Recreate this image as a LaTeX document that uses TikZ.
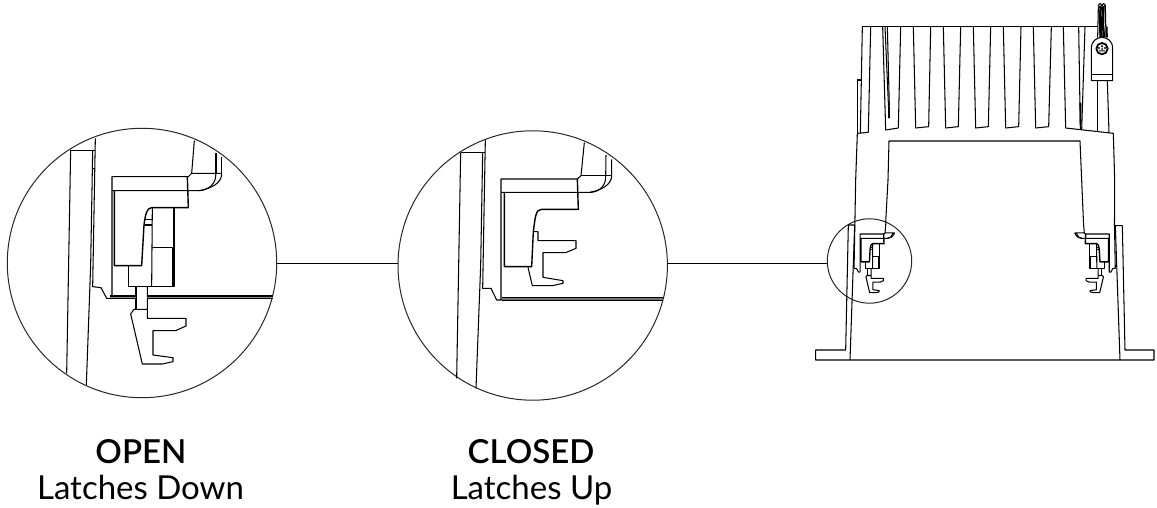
\documentclass[tikz,border=0pt]{standalone}
\usepackage{fontspec}
\setmainfont{Lato}
\newfontfamily\labelbold{Lato Semibold}
\tikzset{
  ink/.style={draw=black,line width=1.05pt,line join=round},
  ring/.style={circle,draw=black!85,line width=1pt,inner sep=0pt,outer sep=0pt},
  caption/.style={font=\fontsize{33}{38}\selectfont,text=black,anchor=base,inner sep=0pt},
  capbold/.style={caption,font=\labelbold\fontsize{33}{38}\selectfont},
}
% latch assembly in common coordinates; open state
\newcommand{\bodylines}{%
  \draw[ink] (286,55)--(278,500)--(303,503)--(320,535)--(336,535);
  \draw[ink] (336,535)--(336,170)--(565,170)--(575,160)--(583,62);
  \draw[ink] (336,212)--(597,212) .. controls (620,212) and (645,195) .. (647,170)--(647.5,160);
  \draw[ink] (575,160)--(665,160)--(665,165) .. controls (662,190) and (635,205) .. (597,212);
  \draw[ink,line width=1.4pt] (343,212)--(343,437)--(425,437)--(432,315) .. controls (436,285) and (440,263) .. (455,263)--(565,263)--(562,170);
}
\newcommand{\openlatch}{%
  \draw[ink] (385,437)--(385,500)--(522,500)--(522,263);
  \draw[ink] (457,263)--(455,500);
  \draw[ink] (457,382)--(517,382)--(517,500);
  \draw[ink] (436,298)--(455,298) (433,315)--(455,315);
  \draw[ink] (408,500)--(408,568);
  \draw[ink] (442,500)--(442,595)--(558,595)--(558,618)--(527,632)--(459,632)--(459,705)--(519,713)--(519,725)--(487,732)--(427,732)--(392,582)--(402,568)--(442,568);
}
\begin{document}
\begin{tikzpicture}[x=1pt,y=-1pt]
\useasboundingbox (0,0) rectangle (1157,508);

% rings
\node[ring,minimum size=269.4pt] (c1) at (142,263) {};
\node[ring,minimum size=269.4pt] (c2) at (532.7,265.5) {};
\node[ring,minimum size=84.4pt] (c3) at (869.5,261) {};
\draw[ink,line width=1pt] (c1.east) -- (c2.west |- c1.east);
\draw[ink,line width=1pt] (c2.east |- c1.east) -- (c3.west |- c1.east);

% open detail
\begin{scope}[x=.33333pt,y=-.33333pt,shift={(0pt,-120pt)}]
  \draw[ink] (212,90)--(200,760);
  \draw[ink] (212,92)--(284,92);
  \draw[ink] (278,92)--(272,435)--(259,795);
  \draw[ink] (284,145)--(278,145);
  \bodylines
  \openlatch
  \draw[ink] (648,160)--(648,100) (665,160)--(665,110);
  \fill[black!45] (330,528) rectangle (408,536) (442,528) rectangle (819,536);
  \draw[ink] (330,528)--(408,528) (442,528)--(820,528);
  \draw[ink] (330,536)--(408,536) (442,536)--(818,536);
\end{scope}

% closed detail
\begin{scope}[x=.33333pt,y=-.33333pt,shift={(390pt,-120pt)}]
  \draw[ink] (212,98)--(200,775);
  \draw[ink] (212,98)--(285,98);
  \draw[ink] (278,98)--(272,437)--(258,805);
  \draw[ink] (286,60)--(278,505)--(303,505)--(320,540)--(335,540);
  \draw[ink] (333,540)--(333,177)--(562,177)--(573,167)--(583,68);
  \draw[ink] (333,217)--(600,217) .. controls (625,217) and (645,200) .. (647,175)--(648,105);
  \draw[ink] (573,167)--(665,167);
  \draw[ink] (665,118)--(665,170) .. controls (662,195) and (635,210) .. (600,217);
  \draw[ink,line width=1.4pt] (343,217)--(343,440)--(425,440)--(430,335) .. controls (436,290) and (437,268) .. (455,268)--(565,268)--(562,177);
  \draw[ink] (430,335)--(444,335)--(444,362)--(558,362)--(558,385)--(527,398)--(459,398)--(459,472)--(519,482)--(519,490)--(487,497)--(427,497)--(414,442);
  \fill[black!55] (335,533) rectangle (820,541);
  \draw[ink] (335,533)--(820,533) (335,541)--(818,541);
\end{scope}

% housing, upper part
\begin{scope}[x=.33333pt,y=-.33333pt,shift={(800pt,0pt)}]
  \draw[ink] (187,80)--(895,80);
  \draw[ink] (187,80)--(181,400);
  \draw[ink] (183,240)--(172,240)--(172,400);
  \draw[ink] (212,80)--(205,397)--(172,400)--(167,540);
  \draw[ink] (248,80)--(257,390)--(295,384)--(302,80);
  \draw[ink] (255,80)--(267,355);
  \draw[ink] (262,80)--(268,320);
  \draw[ink,line width=1.6pt] (267,320)--(267,355);
  \draw[ink] (340,80)--(347,384)--(386,380)--(392,80);
  \draw[ink] (430,80)--(437,384)--(475,380)--(482,80);
  \draw[ink] (520,80)--(527,384)--(565,380)--(572,80);
  \draw[ink] (610,80)--(617,384)--(656,380)--(663,80);
  \draw[ink] (700,80)--(707,384)--(746,380)--(754,80);
  \draw[ink] (790,80)--(797,384)--(940,400)--(944,540);
  \draw[ink] (855,80)--(845,390);
  \draw[ink] (836,80)--(841,390);
  \draw[ink,line width=1.8pt] (841,308)--(842,372);
  \draw[ink] (264,540)--(267,423)--(840,423)--(845,540);
  % wire bundle
  \draw[ink] (893,112)--(895,20) (918,112)--(916,18) (922,112)--(921,80);
  \draw[ink,line width=1.2pt] (900,112)--(897,20) (905,112)--(908,20) (910,112)--(912,20) (914,112)--(906,20) (903,112)--(902,20);
  \draw[ink] (900,16) circle[radius=5.5] (911,16) circle[radius=5.5];
  % bracket
  \draw[ink,fill=white] (874,242)--(874,142) .. controls (874,125) and (890,112) .. (906,112) .. controls (922,112) and (938,125) .. (938,142)--(938,242)--cycle;
  \draw[ink] (874,224)--(938,224);
  \draw[ink,line width=1.8pt] (906,146) circle[radius=17];
  \fill[black] (897,144) circle[radius=3.5] (906,139) circle[radius=3.5] (915,144) circle[radius=3.5] (906,147) circle[radius=3] (897,151) rectangle (915,154);
  \draw[ink] (893,242)--(893,395);
  \draw[ink] (922,242)--(927,398);
\end{scope}

% housing, lower part
\begin{scope}[x=.33333pt,y=-.33333pt,shift={(810pt,-200pt)}]
  \draw[ink] (137,-60)--(134.7,66);
  \draw[ink] (914,-60)--(913.5,66);
  \draw[ink] (234,-60)--(227,68);
  \draw[ink] (815,-60)--(820.5,68);
  \draw[ink] (134,75)--(115,75)--(107,450)--(17,450)--(17,480)--(1032,480)--(1032,450)--(945,450)--(937,77)--(915,77);
  \draw[ink] (134,75)--(120,480);
  \draw[ink] (916,77)--(930,480);
\end{scope}

% latches in the small view
\begin{scope}[x=.1043pt,y=-.1043pt,shift={(825.07pt,-216.25pt)}]
  \bodylines
  \openlatch
\end{scope}
\begin{scope}[x=-.1043pt,y=-.1043pt,shift={(1144.27pt,-216.25pt)}]
  \bodylines
  \openlatch
\end{scope}

% captions
\node[capbold] (t1) at (141,463) {OPEN};
\node[caption] (t2) at (140.5,499) {Latches Down};
\node[capbold] (t3) at (531,463) {CLOSED};
\node[caption] (t4) at (531.5,499) {Latches Up};
\end{tikzpicture}
\end{document}
